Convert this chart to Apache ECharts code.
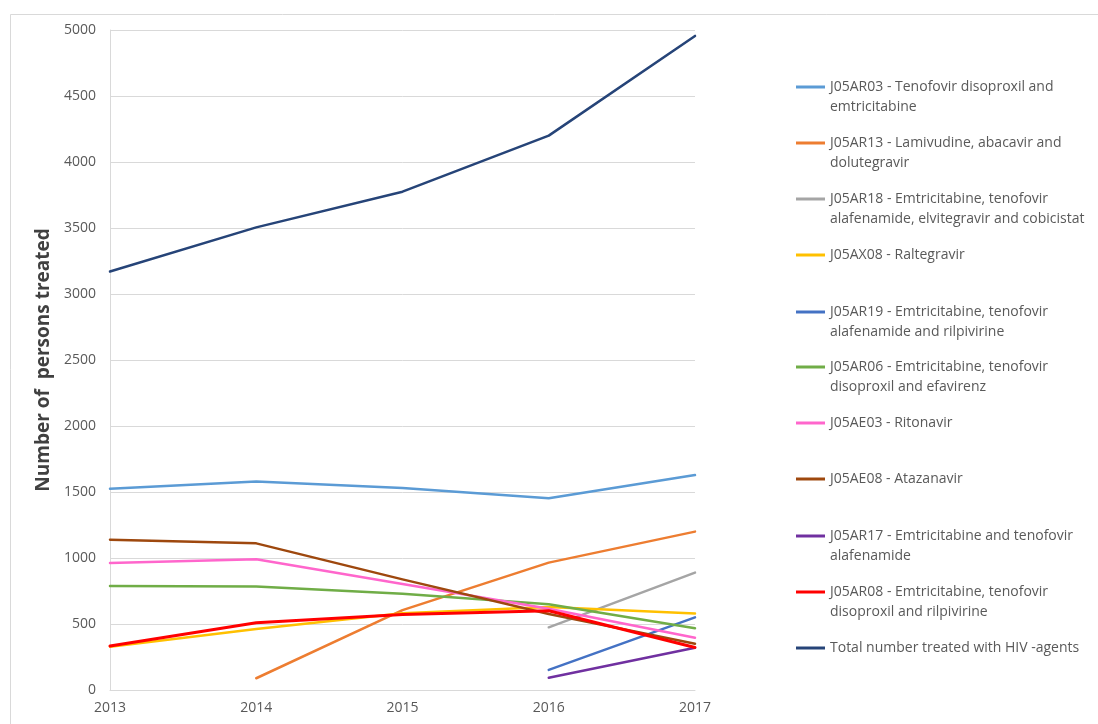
<!DOCTYPE html>
<html>
<head>
<meta charset="utf-8">
<script src="https://cdn.jsdelivr.net/npm/echarts@6/dist/echarts.min.js"></script>
<style>
  html, body { margin: 0; padding: 0; background: #ffffff; }
  #chart { width: 1098px; height: 724px; }
</style>
</head>
<body>
<div id="chart"></div>
<script>
// Years on the category axis
const years = ['2013', '2014', '2015', '2016', '2017'];

// Value-axis ticks
const yMin = 0;
const yMax = 5000;
const yStep = 500;

// Legend text, split over the lines it is written on
const nameAR03 = ['J05AR03 - Tenofovir disoproxil and', 'emtricitabine'];
const nameAR13 = ['J05AR13 - Lamivudine, abacavir and', 'dolutegravir'];
const nameAR18 = ['J05AR18 - Emtricitabine, tenofovir', 'alafenamide, elvitegravir and cobicistat'];
const nameAX08 = ['J05AX08 - Raltegravir'];
const nameAR19 = ['J05AR19 - Emtricitabine, tenofovir', 'alafenamide and rilpivirine'];
const nameAR06 = ['J05AR06 - Emtricitabine, tenofovir', 'disoproxil and efavirenz'];
const nameAE03 = ['J05AE03 - Ritonavir'];
const nameAE08 = ['J05AE08 - Atazanavir'];
const nameAR17 = ['J05AR17 - Emtricitabine and tenofovir', 'alafenamide'];
const nameAR08 = ['J05AR08 - Emtricitabine, tenofovir', 'disoproxil and rilpivirine'];
const nameTotal = ['Total number treated with HIV -agents'];

// Persons treated per year (null = not in use that year)
const valAR03 = [1525, 1580, 1530, 1452, 1628];
const valAR13 = [null, 89, 605, 965, 1200];
const valAR18 = [null, null, null, 475, 889];
const valAX08 = [328, 462, 582, 628, 580];
const valAR19 = [null, null, null, 152, 550];
const valAR06 = [788, 784, 730, 650, 467];
const valAE03 = [962, 990, 803, 615, 396];
const valAE08 = [1139, 1111, 838, 576, 350];
const valAR17 = [null, null, null, 93, 320];
const valAR08 = [333, 510, 572, 600, 322];
const valTotal = [3170, 3505, 3775, 4200, 4955];

const seriesDefs = [
  { lines: nameAR03, data: valAR03, color: '#5b9bd5', width: 2.5 },
  { lines: nameAR13, data: valAR13, color: '#ed7d31', width: 2.5 },
  { lines: nameAR18, data: valAR18, color: '#a5a5a5', width: 2.5 },
  { lines: nameAX08, data: valAX08, color: '#ffc000', width: 2.5 },
  { lines: nameAR19, data: valAR19, color: '#4472c4', width: 2.5 },
  { lines: nameAR06, data: valAR06, color: '#70ad47', width: 2.5 },
  { lines: nameAE03, data: valAE03, color: '#ff66cc', width: 2.5 },
  { lines: nameAE08, data: valAE08, color: '#9e480e', width: 2.5 },
  { lines: nameAR17, data: valAR17, color: '#7030a0', width: 2.5 },
  { lines: nameAR08, data: valAR08, color: '#ff0000', width: 3 },
  { lines: nameTotal, data: valTotal, color: '#264478', width: 2.5 }
];

// Vertical centre of each legend entry's first line
const legendRowY = [87, 143, 199, 255, 312, 367, 423, 479, 536, 592, 648];

const fontFamily = '"Open Sans", "Noto Sans", sans-serif';
const textGrey = '#595959';
const lineGrey = '#d9d9d9';

const fullName = def => def.lines.join(' ');

const legends = seriesDefs.map((def, i) => {
  const twoLines = def.lines.length > 1;
  return {
    data: [fullName(def)],
    left: 796,
    top: legendRowY[i] - (twoLines ? 30 : 10),
    padding: 0,
    icon: 'rect',
    itemWidth: 29,
    itemHeight: 3,
    selectedMode: false,
    textStyle: {
      color: textGrey,
      fontSize: 14,
      fontFamily: fontFamily,
      lineHeight: 20
    },
    // Blank first row keeps the sample line level with the first text row
    formatter: () => twoLines ? ' \n' + def.lines[0] + '\n' + def.lines[1] : def.lines[0]
  };
});

const series = seriesDefs.map(def => ({
  name: fullName(def),
  type: 'line',
  data: def.data,
  symbol: 'none',
  showSymbol: false,
  smooth: false,
  color: def.color,
  lineStyle: { color: def.color, width: def.width, cap: 'round', join: 'round' },
  emphasis: { disabled: true }
}));

const chart = echarts.init(document.getElementById('chart'), null, { renderer: 'canvas' });
chart.setOption({
  backgroundColor: '#ffffff',
  animation: false,
  graphic: [{
    type: 'rect',
    left: 8,
    top: 12,
    shape: { width: 1200, height: 800 },
    style: { fill: 'none', stroke: lineGrey, lineWidth: 1 },
    silent: true
  }],
  grid: { left: 110, right: 403, top: 30, bottom: 34, containLabel: false },
  legend: legends,
  xAxis: {
    type: 'category',
    data: years,
    boundaryGap: false,
    axisLine: { show: true, lineStyle: { color: lineGrey, width: 1 } },
    axisTick: { show: false },
    axisLabel: { color: textGrey, fontSize: 14, fontFamily: fontFamily, margin: 11 },
    splitLine: { show: false }
  },
  yAxis: {
    type: 'value',
    min: yMin,
    max: yMax,
    interval: yStep,
    name: 'Number of  persons treated',
    nameLocation: 'middle',
    nameGap: 55,
    nameTextStyle: { color: '#404040', fontSize: 19, fontWeight: 'bold', fontFamily: fontFamily },
    axisLine: { show: true, lineStyle: { color: lineGrey, width: 1 } },
    axisTick: { show: false },
    axisLabel: {
      color: textGrey, fontSize: 14, fontFamily: fontFamily, margin: 14,
      formatter: v => String(v)
    },
    splitLine: { show: true, lineStyle: { color: lineGrey, width: 1 } }
  },
  series: series
});
</script>
</body>
</html>
